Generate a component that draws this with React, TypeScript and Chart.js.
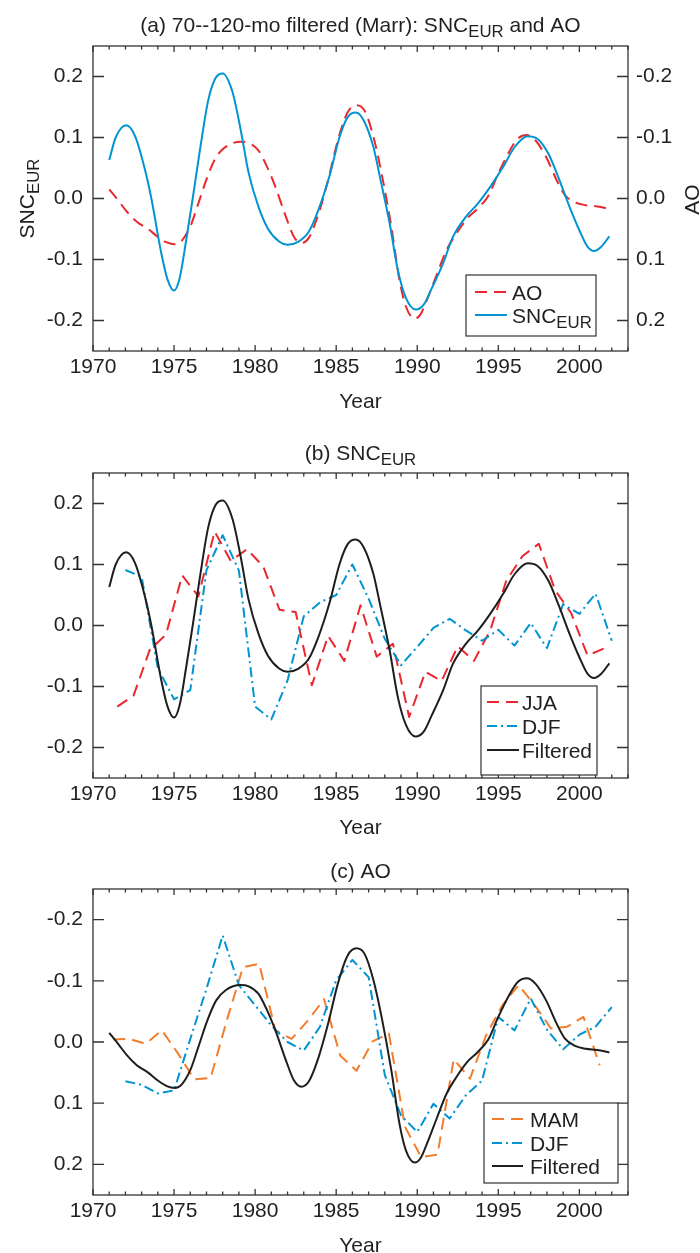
import React, { useEffect, useRef } from "react";
import { Chart, registerables } from "chart.js";

Chart.register(...registerables);

const FONT = "'Liberation Sans', Arial, Helvetica, sans-serif";
const INK = "#231f20";
const FRAME = "#333333";
const BLUE = "rgb(0,148,210)";
const RED = "rgb(234,40,46)";
const ORANGE = "rgb(242,125,45)";
const BLACK = "#1e1e1e";

const X_MIN = 1970;
const X_MAX = 2003;
const X_TICKS = [1970, 1975, 1980, 1985, 1990, 1995, 2000];
const Y_TICKS = [-0.2, -0.1, 0, 0.1, 0.2];
const Y_MIN = -0.25;
const Y_MAX = 0.25;

// 70--120-month filtered SNC_EUR
const SNC_FILT_YEARS = [
  1971.0, 1971.4, 1972.05, 1972.6, 1973.2, 1973.6, 1974.2, 1974.6, 1975.0, 1975.35,
  1975.75, 1976.15, 1976.6, 1977.1, 1977.55, 1978.0, 1978.6, 1979.1, 1979.6, 1980.2,
  1980.8, 1981.5, 1982.0, 1982.65, 1983.3, 1983.9, 1984.6, 1985.2, 1985.7, 1986.2,
  1986.7, 1987.3, 1987.7, 1988.3, 1988.8, 1989.3, 1989.9, 1990.4, 1990.9, 1991.6,
  1992.2, 1993.0, 1993.75, 1994.5, 1995.3, 1996.0, 1996.8, 1997.4, 1998.1, 1998.7,
  1999.4, 2000.0, 2000.5, 2000.9, 2001.35, 2001.85,
];
const SNC_FILT = [
  0.063, 0.1, 0.12, 0.102, 0.048, 0.0, -0.088, -0.133, -0.151, -0.13,
  -0.068, 0.0, 0.08, 0.16, 0.197, 0.205, 0.175, 0.114, 0.042, -0.013,
  -0.05, -0.071, -0.076, -0.071, -0.055, -0.019, 0.038, 0.1, 0.133, 0.141,
  0.128, 0.084, 0.035, -0.041, -0.117, -0.163, -0.182, -0.174, -0.147, -0.106,
  -0.063, -0.03, -0.008, 0.019, 0.052, 0.084, 0.102, 0.098, 0.073, 0.035,
  -0.014, -0.052, -0.079, -0.086, -0.079, -0.062,
];

// 70--120-month filtered AO
const AO_FILT_YEARS = [
  1971.0, 1971.55, 1972.1, 1972.7, 1973.4, 1974.0, 1974.55, 1975.05, 1975.45, 1976.0,
  1976.5, 1977.05, 1977.6, 1978.2, 1979.1, 1979.6, 1980.2, 1980.7, 1981.25, 1981.9,
  1982.4, 1982.85, 1983.3, 1983.85, 1984.5, 1985.1, 1985.7, 1986.25, 1986.75, 1987.3,
  1987.8, 1988.4, 1988.9, 1989.3, 1989.85, 1990.2, 1990.6, 1991.2, 1991.8, 1992.4,
  1993.1, 1993.75, 1994.4, 1995.0, 1995.7, 1996.2, 1996.75, 1997.3, 1997.95, 1998.6,
  1999.1, 1999.7, 2000.4, 2001.1, 2001.85,
];
const AO_FILT = [
  -0.015, 0.003, 0.022, 0.038, 0.05, 0.063, 0.072, 0.075, 0.07, 0.046,
  0.008, -0.035, -0.068, -0.085, -0.093, -0.091, -0.079, -0.054, -0.019, 0.03,
  0.063, 0.073, 0.065, 0.03, -0.03, -0.095, -0.141, -0.153, -0.144, -0.101,
  -0.041, 0.046, 0.133, 0.177, 0.197, 0.19, 0.166, 0.125, 0.085, 0.058,
  0.032, 0.016, -0.005, -0.041, -0.078, -0.098, -0.104, -0.095, -0.068, -0.03,
  -0.006, 0.006, 0.011, 0.013, 0.017,
];

// Seasonal SNC_EUR
const JJA_YEARS = [
  1971.5, 1972.5, 1973.5, 1974.5, 1975.5, 1976.5, 1977.5, 1978.5, 1979.5, 1980.5,
  1981.5, 1982.5, 1983.5, 1984.5, 1985.5, 1986.5, 1987.5, 1988.5, 1989.5, 1990.5,
  1991.5, 1992.5, 1993.5, 1994.5, 1995.5, 1996.5, 1997.5, 1998.5, 1999.5, 2000.5,
  2001.5,
];
const SNC_JJA = [
  -0.133, -0.115, -0.04, -0.015, 0.082, 0.048, 0.154, 0.106, 0.125, 0.097,
  0.026, 0.022, -0.098, -0.017, -0.058, 0.033, -0.051, -0.03, -0.15, -0.076,
  -0.091, -0.034, -0.058, -0.008, 0.074, 0.114, 0.134, 0.058, 0.02, -0.049,
  -0.038,
];
const DJF_YEARS = [
  1972, 1973, 1974, 1975, 1976, 1977, 1978, 1979, 1980, 1981,
  1982, 1983, 1984, 1985, 1986, 1987, 1988, 1989, 1990, 1991,
  1992, 1993, 1994, 1995, 1996, 1997, 1998, 1999, 2000, 2001,
  2002,
];
const SNC_DJF = [
  0.091, 0.08, -0.07, -0.121, -0.106, 0.091, 0.148, 0.09, -0.133, -0.154,
  -0.09, 0.015, 0.038, 0.05, 0.1, 0.044, -0.022, -0.065, -0.035, -0.004,
  0.011, -0.008, -0.025, -0.007, -0.033, 0.004, -0.037, 0.035, 0.019, 0.052,
  -0.025,
];

// Seasonal AO
const MAM_YEARS = [
  1971.25, 1972.25, 1973.25, 1974.25, 1975.25, 1976.25, 1977.25, 1978.25, 1979.25, 1980.25,
  1981.25, 1982.25, 1983.25, 1984.25, 1985.25, 1986.25, 1987.25, 1988.25, 1989.25, 1990.25,
  1991.25, 1992.25, 1993.25, 1994.25, 1995.25, 1996.25, 1997.25, 1998.25, 1999.25, 2000.25,
  2001.25,
];
const AO_MAM = [
  -0.004, -0.005, 0.003, -0.019, 0.019, 0.061, 0.059, -0.035, -0.122, -0.128,
  -0.019, -0.005, -0.035, -0.07, 0.022, 0.047, -0.001, -0.014, 0.139, 0.188,
  0.184, 0.028, 0.06, -0.011, -0.06, -0.093, -0.06, -0.022, -0.025, -0.041,
  0.038,
];
const AO_DJF = [
  0.064, 0.07, 0.084, 0.079, -0.005, -0.087, -0.174, -0.093, -0.06, -0.027,
  0.0, 0.014, -0.025, -0.101, -0.134, -0.106, 0.054, 0.12, 0.147, 0.101,
  0.125, 0.087, 0.063, -0.041, -0.019, -0.071, -0.02, 0.012, -0.012, -0.025,
  -0.057,
];

type Rich = [string, boolean][];

const SNC_EUR: Rich = [["SNC", false], ["EUR", true]];

function pts(xs: number[], ys: number[]) {
  return xs.map((x, i) => ({ x, y: ys[i] }));
}

function fontStr(size: number) {
  return `${size}px ${FONT}`;
}

const SUB_SCALE = 0.8;

function richWidth(ctx: CanvasRenderingContext2D, parts: Rich, size: number) {
  let w = 0;
  for (const [t, sub] of parts) {
    ctx.font = fontStr(sub ? size * SUB_SCALE : size);
    w += ctx.measureText(t).width;
  }
  return w;
}

function drawRich(
  ctx: CanvasRenderingContext2D,
  parts: Rich,
  x: number,
  yMid: number,
  size: number,
  align: "center" | "left"
) {
  const w = richWidth(ctx, parts, size);
  let cx = align === "center" ? x - w / 2 : x;
  const base = yMid + size * 0.36;
  ctx.textAlign = "left";
  ctx.textBaseline = "alphabetic";
  ctx.fillStyle = INK;
  for (const [t, sub] of parts) {
    const s = sub ? size * SUB_SCALE : size;
    ctx.font = fontStr(s);
    ctx.fillText(t, cx, base + (sub ? size * 0.24 : 0));
    cx += ctx.measureText(t).width;
  }
}

type LegendRow = { label: Rich; color: string; dash: number[]; y: number };
type PanelSpec = {
  key: string;
  top: number;
  height: number;
  padTop: number;
  xAxisH: number;
  reverse: boolean;
  rightAxis: boolean;
  title: Rich;
  titleY: number;
  yearY: number;
  yTitleLeft?: Rich;
  yTitleRight?: Rich;
  legendBox: { x: number; y: number; w: number; h: number };
  sampleX0: number;
  sampleX1: number;
  textX: number;
  rows: LegendRow[];
  datasets: any[];
};

const TEXT_SIZE = 21;
const DASHED = [12, 7];
const DASHDOT = [10, 4, 2, 4];

function makePlugin(spec: PanelSpec) {
  return {
    id: "frame_" + spec.key,
    afterDatasetsDraw(chart: any) {
      const ctx: CanvasRenderingContext2D = chart.ctx;
      const { left, right, top, bottom } = chart.chartArea;
      const xs = chart.scales.x;
      const ys = chart.scales.y;
      ctx.save();
      ctx.setLineDash([]);
      ctx.strokeStyle = FRAME;
      ctx.lineWidth = 1.3;
      ctx.beginPath();
      for (let yr = X_MIN; yr <= X_MAX; yr++) {
        const px = xs.getPixelForValue(yr);
        const len = yr % 5 === 0 ? 6 : 3.5;
        ctx.moveTo(px, bottom);
        ctx.lineTo(px, bottom - len);
        ctx.moveTo(px, top);
        ctx.lineTo(px, top + len);
      }
      for (const v of Y_TICKS) {
        const py = ys.getPixelForValue(v);
        ctx.moveTo(left, py);
        ctx.lineTo(left + 11, py);
        ctx.moveTo(right, py);
        ctx.lineTo(right - 11, py);
      }
      ctx.stroke();
      ctx.strokeRect(left, top, right - left, bottom - top);

      // legend
      const b = spec.legendBox;
      ctx.fillStyle = "#ffffff";
      ctx.fillRect(b.x, b.y, b.w, b.h);
      ctx.strokeStyle = FRAME;
      ctx.lineWidth = 1.2;
      ctx.strokeRect(b.x, b.y, b.w, b.h);
      for (const r of spec.rows) {
        ctx.save();
        ctx.strokeStyle = r.color;
        ctx.lineWidth = 2;
        ctx.setLineDash(r.dash);
        ctx.beginPath();
        ctx.moveTo(spec.sampleX0, r.y);
        ctx.lineTo(spec.sampleX1, r.y);
        ctx.stroke();
        ctx.restore();
        drawRich(ctx, r.label, spec.textX, r.y, TEXT_SIZE, "left");
      }

      // titles
      const cxm = (left + right) / 2;
      drawRich(ctx, spec.title, cxm, spec.titleY, TEXT_SIZE, "center");
      drawRich(ctx, [["Year", false]], cxm, spec.yearY, TEXT_SIZE, "center");
      const cym = (top + bottom) / 2;
      if (spec.yTitleLeft) {
        ctx.save();
        ctx.translate(26, cym);
        ctx.rotate(-Math.PI / 2);
        drawRich(ctx, spec.yTitleLeft, 0, 0, TEXT_SIZE, "center");
        ctx.restore();
      }
      if (spec.yTitleRight) {
        ctx.save();
        ctx.translate(691, cym + 1);
        ctx.rotate(-Math.PI / 2);
        drawRich(ctx, spec.yTitleRight, 0, 0, TEXT_SIZE, "center");
        ctx.restore();
      }
      ctx.restore();
    },
  };
}

function fmtY(v: number) {
  return Math.abs(v) < 1e-9 ? "0.0" : Number(v).toFixed(1);
}

function yScale(position: "left" | "right", reverse: boolean, width: number, padding: number) {
  return {
    position,
    min: Y_MIN,
    max: Y_MAX,
    reverse,
    afterBuildTicks: (s: any) => {
      s.ticks = Y_TICKS.map((v) => ({ value: v }));
    },
    afterFit: (s: any) => {
      s.width = width;
    },
    ticks: {
      color: INK,
      font: { family: FONT, size: TEXT_SIZE },
      padding,
      callback: (v: any) => fmtY(Number(v)),
    },
    grid: { display: false, drawTicks: false },
    border: { display: false },
  };
}

function buildConfig(spec: PanelSpec): any {
  const scales: any = {
    x: {
      type: "linear",
      min: X_MIN,
      max: X_MAX,
      afterBuildTicks: (s: any) => {
        s.ticks = X_TICKS.map((v) => ({ value: v }));
      },
      afterFit: (s: any) => {
        s.height = spec.xAxisH;
      },
      ticks: {
        color: INK,
        font: { family: FONT, size: TEXT_SIZE },
        padding: 4,
        maxRotation: 0,
        autoSkip: false,
        callback: (v: any) => String(v),
      },
      grid: { display: false, drawTicks: false },
      border: { display: false },
    },
    y: yScale("left", spec.reverse, 93, 10),
  };
  if (spec.rightAxis) {
    scales.y2 = yScale("right", true, 72, 8);
  }
  return {
    type: "line",
    data: { datasets: spec.datasets },
    options: {
      animation: false,
      responsive: false,
      maintainAspectRatio: false,
      devicePixelRatio: 1,
      layout: {
        padding: { left: 0, right: spec.rightAxis ? 0 : 72, top: spec.padTop, bottom: 0 },
      },
      plugins: {
        legend: { display: false },
        tooltip: { enabled: false },
        title: { display: false },
      },
      elements: { point: { radius: 0 } },
      scales,
    },
    plugins: [makePlugin(spec)],
  };
}

function lineDs(label: string, data: any[], color: string, dash: number[], smooth: boolean, yAxisID = "y") {
  return {
    label,
    data,
    yAxisID,
    borderColor: color,
    backgroundColor: color,
    borderWidth: 2,
    borderDash: dash,
    borderJoinStyle: "round",
    pointRadius: 0,
    fill: false,
    tension: smooth ? 0.4 : 0,
    cubicInterpolationMode: smooth ? "monotone" : "default",
  };
}

const PANELS: PanelSpec[] = [
  {
    key: "a",
    top: 0,
    height: 420,
    padTop: 46,
    xAxisH: 69,
    reverse: false,
    rightAxis: true,
    title: [["(a) 70--120-mo filtered (Marr): SNC", false], ["EUR", true], [" and AO", false]],
    titleY: 24,
    yearY: 400,
    yTitleLeft: SNC_EUR,
    yTitleRight: [["AO", false]],
    legendBox: { x: 466, y: 275, w: 130, h: 61 },
    sampleX0: 475,
    sampleX1: 507,
    textX: 512,
    rows: [
      { label: [["AO", false]], color: RED, dash: DASHED, y: 292 },
      { label: SNC_EUR, color: BLUE, dash: [], y: 315 },
    ],
    datasets: [
      lineDs("SNC_EUR", pts(SNC_FILT_YEARS, SNC_FILT), BLUE, [], true, "y"),
      lineDs("AO", pts(AO_FILT_YEARS, AO_FILT), RED, DASHED, true, "y2"),
    ],
  },
  {
    key: "b",
    top: 420,
    height: 420,
    padTop: 53,
    xAxisH: 62,
    reverse: false,
    rightAxis: false,
    title: [["(b) SNC", false], ["EUR", true]],
    titleY: 32,
    yearY: 406,
    legendBox: { x: 481, y: 266, w: 116, h: 89 },
    sampleX0: 487,
    sampleX1: 519,
    textX: 522,
    rows: [
      { label: [["JJA", false]], color: RED, dash: DASHED, y: 282 },
      { label: [["DJF", false]], color: BLUE, dash: DASHDOT, y: 306 },
      { label: [["Filtered", false]], color: BLACK, dash: [], y: 330 },
    ],
    datasets: [
      lineDs("Filtered", pts(SNC_FILT_YEARS, SNC_FILT), BLACK, [], true),
      lineDs("DJF", pts(DJF_YEARS, SNC_DJF), BLUE, DASHDOT, false),
      lineDs("JJA", pts(JJA_YEARS, SNC_JJA), RED, DASHED, false),
    ],
  },
  {
    key: "c",
    top: 840,
    height: 413,
    padTop: 49,
    xAxisH: 58,
    reverse: true,
    rightAxis: false,
    title: [["(c) AO", false]],
    titleY: 30,
    yearY: 404,
    legendBox: { x: 484, y: 263, w: 134, h: 80 },
    sampleX0: 492,
    sampleX1: 523,
    textX: 530,
    rows: [
      { label: [["MAM", false]], color: ORANGE, dash: DASHED, y: 279 },
      { label: [["DJF", false]], color: BLUE, dash: DASHDOT, y: 303 },
      { label: [["Filtered", false]], color: BLACK, dash: [], y: 326 },
    ],
    datasets: [
      lineDs("Filtered", pts(AO_FILT_YEARS, AO_FILT), BLACK, [], true),
      lineDs("DJF", pts(DJF_YEARS, AO_DJF), BLUE, DASHDOT, false),
      lineDs("MAM", pts(MAM_YEARS, AO_MAM), ORANGE, DASHED, false),
    ],
  },
];

function Panel({ spec }: { spec: PanelSpec }) {
  const ref = useRef<HTMLCanvasElement>(null);
  useEffect(() => {
    if (!ref.current) return;
    const chart = new Chart(ref.current, buildConfig(spec));
    return () => chart.destroy();
  }, [spec]);
  return (
    <canvas
      ref={ref}
      width={700}
      height={spec.height}
      style={{ position: "absolute", left: 0, top: spec.top, width: 700, height: spec.height }}
    />
  );
}

export default function App() {
  return (
    <div
      style={{
        position: "absolute",
        left: 0,
        top: 0,
        width: 700,
        height: 1253,
        background: "#ffffff",
        overflow: "hidden",
      }}
    >
      {PANELS.map((p) => (
        <Panel key={p.key} spec={p} />
      ))}
    </div>
  );
}
